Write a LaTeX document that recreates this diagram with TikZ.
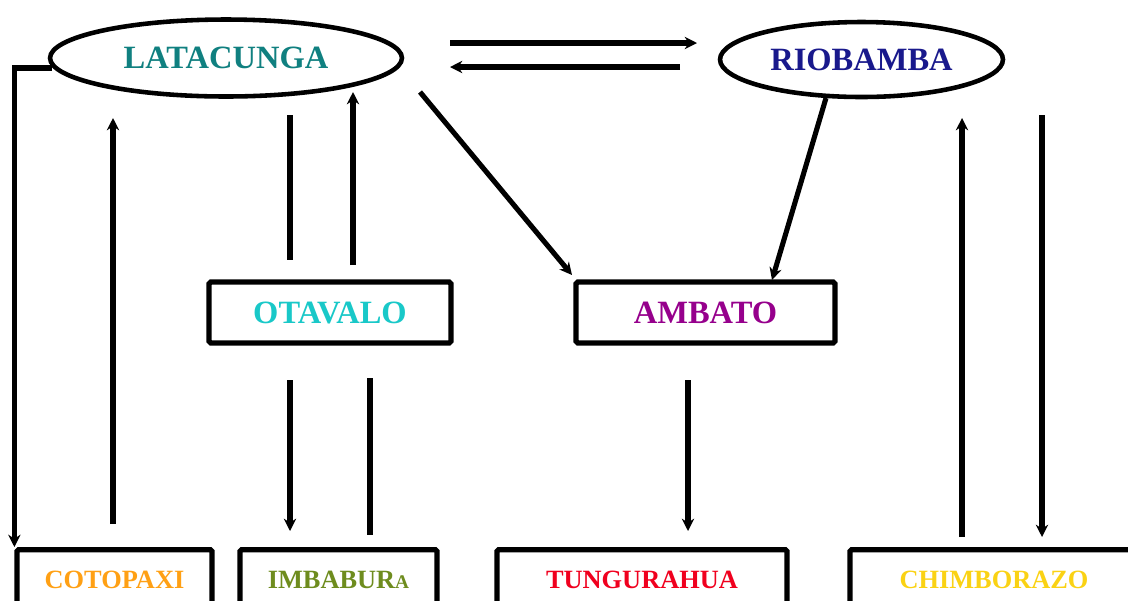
\documentclass[tikz,border=0pt]{standalone}
\usepackage{fontspec}
\setmainfont{Liberation Serif}
\usetikzlibrary{shapes.geometric,arrows.meta}
\definecolor{cteal}{RGB}{16,128,128}
\definecolor{cnavy}{RGB}{25,25,140}
\definecolor{ccyan}{RGB}{25,200,200}
\definecolor{cpurple}{RGB}{150,0,140}
\definecolor{corange}{RGB}{255,160,20}
\definecolor{colive}{RGB}{110,140,30}
\definecolor{cred}{RGB}{240,0,30}
\definecolor{cgold}{RGB}{250,210,20}
\begin{document}
\begin{tikzpicture}[x=0.02cm,y=-0.02cm,
  city/.style={draw,ellipse,line width=2.6pt,inner sep=0pt,font=\bfseries\fontsize{18.5}{20}\selectfont},
  midbox/.style={draw,rectangle,line width=3pt,inner sep=0pt,minimum height=1.22cm,rounded corners=1pt,font=\bfseries\fontsize{18.5}{20}\selectfont},
  lowbox/.style={draw,rectangle,line width=3pt,anchor=north,inner sep=0pt,text height=22pt,text depth=40pt,rounded corners=1pt,font=\bfseries\fontsize{15}{17}\selectfont},
  arr/.style={line width=2.9pt,-{Stealth[length=7pt,width=7pt]}},
  ln/.style={line width=2.9pt}]
\useasboundingbox (0,0) rectangle (1128,600);
\clip (0,0) rectangle (1128,600);

% nodes
\node[city,minimum width=7.04cm,minimum height=1.54cm,text=cteal] (lat) at (226,58) {\raisebox{-2pt}{LATACUNGA}};
\node[city,minimum width=5.66cm,minimum height=1.5cm,text=cnavy] (rio) at (861.5,59.5) {RIOBAMBA};
\node[midbox,minimum width=4.84cm,text=ccyan] (ota) at (330,312.5) {OTAVALO};
\node[midbox,minimum width=5.18cm,text=cpurple] (amb) at (705.5,312.5) {AMBATO};
\node[lowbox,minimum width=3.9cm,text=corange] (cot) at (114.5,547) {COTOPAXI};
\node[lowbox,minimum width=3.94cm,text=colive] (imb) at (338.5,547) {IMBABUR{\fontsize{11}{12}\selectfont A}};
\node[lowbox,minimum width=5.8cm,text=cred] (tun) at (642,547) {TUNGURAHUA};
\node[lowbox,minimum width=5.76cm,text=cgold] (chi) at (994,547) {CHIMBORAZO};

% free ends
\coordinate (p1a) at (450,43);  \coordinate (p1b) at (697,43);
\coordinate (p2a) at (680,67);  \coordinate (p2b) at (450,67);
\coordinate (p3a) at (52,68);
\coordinate (p4a) at (113,524); \coordinate (p4b) at (113,118);
\coordinate (p5a) at (290,115); \coordinate (p5b) at (290,260);
\coordinate (p6a) at (353,265); \coordinate (p6b) at (353,92);
\coordinate (p7a) at (290,380); \coordinate (p7b) at (290,531);
\coordinate (p8a) at (370,378); \coordinate (p8b) at (370,535);
\coordinate (p9a) at (420,92);  \coordinate (p9b) at (572,275);
\coordinate (p10a) at (826,98); \coordinate (p10b) at (772,280);
\coordinate (p11a) at (688,380); \coordinate (p11b) at (688,531);
\coordinate (p12a) at (962,537); \coordinate (p12b) at (962,118);
\coordinate (p13a) at (1042,115); \coordinate (p13b) at (1042,537);

% connectors
\draw[arr] (p1a) -- (p1b);
\draw[arr] (p2a) -- (p2b);
\draw[arr] (p3a) -| (cot.north west);
\draw[arr] (p4a) -- (p4b);
\draw[ln] (p5a) -- (p5b);
\draw[arr] (p6a) -- (p6b);
\draw[arr] (p7a) -- (p7b);
\draw[ln] (p8a) -- (p8b);
\draw[arr] (p9a) -- (p9b);
\draw[arr] (p10a) -- (p10b);
\draw[arr] (p11a) -- (p11b);
\draw[arr] (p12a) -- (p12b);
\draw[arr] (p13a) -- (p13b);
\end{tikzpicture}
\end{document}
